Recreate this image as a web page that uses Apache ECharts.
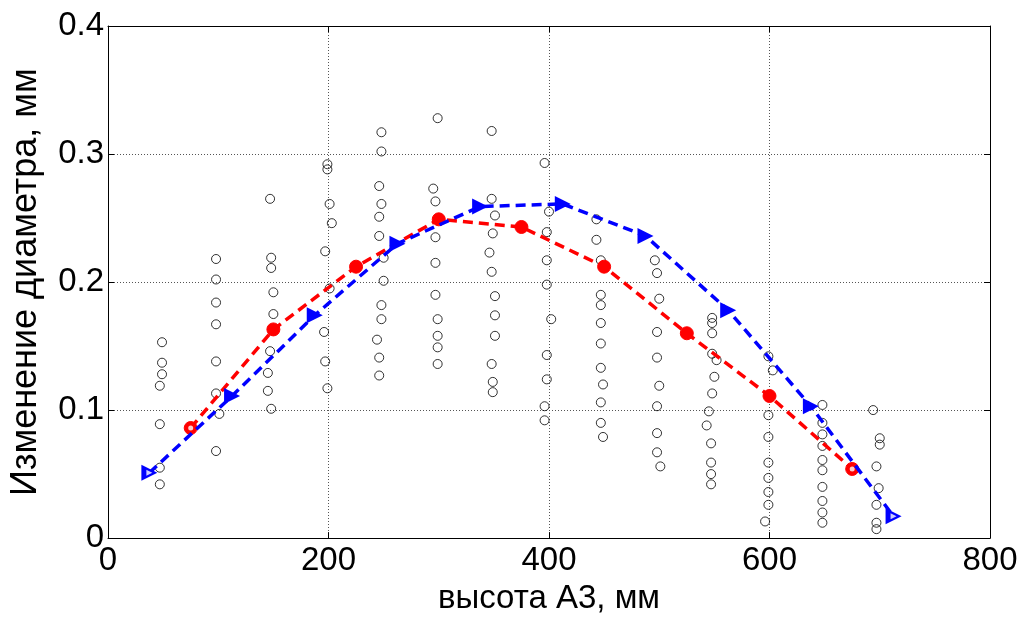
<!DOCTYPE html>
<html><head><meta charset="utf-8">
<script src="https://cdn.jsdelivr.net/npm/echarts@6/dist/echarts.min.js"></script>
<style>html,body{margin:0;padding:0;background:#fff}#c{width:1024px;height:620px}</style>
</head><body><div id="c"></div>
<script>
// Measured scatter (x, y) pairs, grouped by column
const col50  = [[49,0.153],[49,0.137],[49,0.128],[47,0.119],[47,0.089],[47,0.055],[47,0.042]];
const col100 = [[98,0.218],[98,0.202],[98,0.184],[98,0.167],[98,0.138],[98,0.113],[101,0.097],[98,0.068]];
const col150 = [[147,0.265],[148,0.219],[148,0.211],[150,0.192],[150,0.175],[147,0.146],[145,0.129],[145,0.115],[148,0.101]];
const col200 = [[199,0.292],[199,0.288],[201,0.261],[203,0.246],[197,0.224],[201,0.195],[196,0.161],[197,0.138],[199,0.117]];
const col250 = [[248,0.317],[248,0.302],[246,0.275],[248,0.261],[246,0.251],[246,0.236],[250,0.219],[250,0.201],[248,0.182],[248,0.171],[244,0.155],[246,0.141],[246,0.127]];
const col300 = [[299,0.328],[295,0.273],[297,0.263],[297,0.235],[297,0.215],[297,0.190],[299,0.171],[299,0.158],[299,0.149],[299,0.136]];
const col350 = [[348,0.318],[348,0.265],[351,0.252],[349,0.238],[346,0.223],[348,0.208],[351,0.189],[351,0.174],[351,0.158],[348,0.136],[349,0.122],[349,0.114]];
const col400 = [[396,0.293],[400,0.255],[398,0.239],[398,0.217],[398,0.198],[402,0.171],[398,0.143],[398,0.124],[396,0.103],[396,0.092]];
const col450 = [[443,0.249],[443,0.233],[447,0.217],[447,0.190],[447,0.182],[447,0.168],[447,0.152],[447,0.133],[449,0.120],[447,0.106],[447,0.090],[449,0.079]];
const col500 = [[496,0.217],[498,0.207],[500,0.187],[498,0.161],[498,0.141],[500,0.119],[498,0.103],[498,0.082],[498,0.067],[501,0.056]];
const col550 = [[548,0.172],[548,0.168],[548,0.160],[548,0.144],[552,0.139],[550,0.126],[548,0.113],[545,0.099],[543,0.088],[547,0.074],[547,0.059],[547,0.050],[547,0.042]];
const col600 = [[599,0.142],[603,0.131],[599,0.096],[599,0.079],[599,0.059],[599,0.047],[599,0.036],[599,0.026],[596,0.013]];
const col650 = [[648,0.104],[648,0.090],[648,0.081],[648,0.072],[648,0.061],[648,0.053],[648,0.040],[648,0.029],[648,0.020],[648,0.012]];
const col700 = [[694,0.100],[700,0.078],[700,0.073],[697,0.056],[699,0.039],[697,0.026],[697,0.012],[697,0.007]];

const redX = [75,150,225,300,375,450,525,600,675];
const redY = [0.086,0.163,0.212,0.249,0.243,0.212,0.160,0.111,0.054];
const blueX = [37.5,112.5,187.5,262.5,337.5,412.5,487.5,562.5,637.5,712.5];
const blueY = [0.051,0.111,0.174,0.230,0.259,0.261,0.236,0.178,0.103,0.017];

const xTicks = [0,200,400,600,800];
const yTicks = [0,0.1,0.2,0.3,0.4];

const scatterData = [].concat(col50,col100,col150,col200,col250,col300,col350,col400,col450,col500,col550,col600,col650,col700);
const redData = redX.map((x,i)=>[x,redY[i]]);
const blueData = blueX.map((x,i)=>[x,blueY[i]]);

const font = '"Liberation Sans", Arial, sans-serif';
const chart = echarts.init(document.getElementById('c'), null, {renderer:'canvas'});
const axisCommon = {
  axisLine:{show:true,onZero:false,lineStyle:{color:'#000',width:1}},
  axisTick:{show:true,inside:true,length:6,lineStyle:{color:'#000'}},
};
chart.setOption({
  animation:false,
  backgroundColor:'#fff',
  grid:{left:106,right:34,top:26,bottom:77,show:false},
  xAxis:[
    Object.assign({type:'value',min:xTicks[0],max:xTicks[xTicks.length-1],interval:200,
      name:'высота А3, мм',nameLocation:'middle',nameGap:40,
      nameTextStyle:{fontFamily:font,fontSize:33,color:'#000'},
      axisLabel:{fontFamily:font,fontSize:33,color:'#000',margin:6},
      splitLine:{show:true,lineStyle:{color:'#555',width:1,type:[1,2]}}},axisCommon),
    Object.assign({type:'value',position:'top',min:0,max:800,interval:200,
      axisLabel:{show:false},splitLine:{show:false}},axisCommon)
  ],
  yAxis:[
    Object.assign({type:'value',min:yTicks[0],max:yTicks[yTicks.length-1],interval:0.1,
      name:'Изменение диаметра, мм',nameLocation:'middle',nameGap:64,
      nameTextStyle:{fontFamily:font,fontSize:36,color:'#000'},
      axisLabel:{fontFamily:font,fontSize:33,color:'#000',margin:4,
        formatter:v=>v===0?'0':v.toFixed(1)},
      splitLine:{show:true,lineStyle:{color:'#555',width:1,type:[1,2]}}},axisCommon),
    Object.assign({type:'value',position:'right',min:0,max:0.4,interval:0.1,
      axisLabel:{show:false},splitLine:{show:false}},axisCommon)
  ],
  series:[
    {type:'scatter',data:scatterData,symbol:'circle',symbolSize:9,
      itemStyle:{color:'rgba(0,0,0,0)',borderColor:'#000',borderWidth:1},z:2},
    {type:'line',data:redData,symbol:'circle',symbolSize:13,
      lineStyle:{color:'#ff0000',width:3.5,type:[10,6]},
      itemStyle:{color:'#ff0000',borderColor:'#ff0000'},z:3},
    {type:'scatter',data:[redData[0],redData[redData.length-1]],symbol:'circle',symbolSize:5,
      itemStyle:{color:'#fff'},z:4},
    {type:'line',data:blueData,symbol:'triangle',symbolSize:16,symbolRotate:-90,
      lineStyle:{color:'#0000ff',width:3.5,type:[10,6]},
      itemStyle:{color:'#0000ff'},z:5},
    {type:'scatter',data:[blueData[0],blueData[blueData.length-1]],symbol:'triangle',symbolSize:6,symbolRotate:-90,
      itemStyle:{color:'#fff'},z:6}
  ]
});
</script></body></html>
